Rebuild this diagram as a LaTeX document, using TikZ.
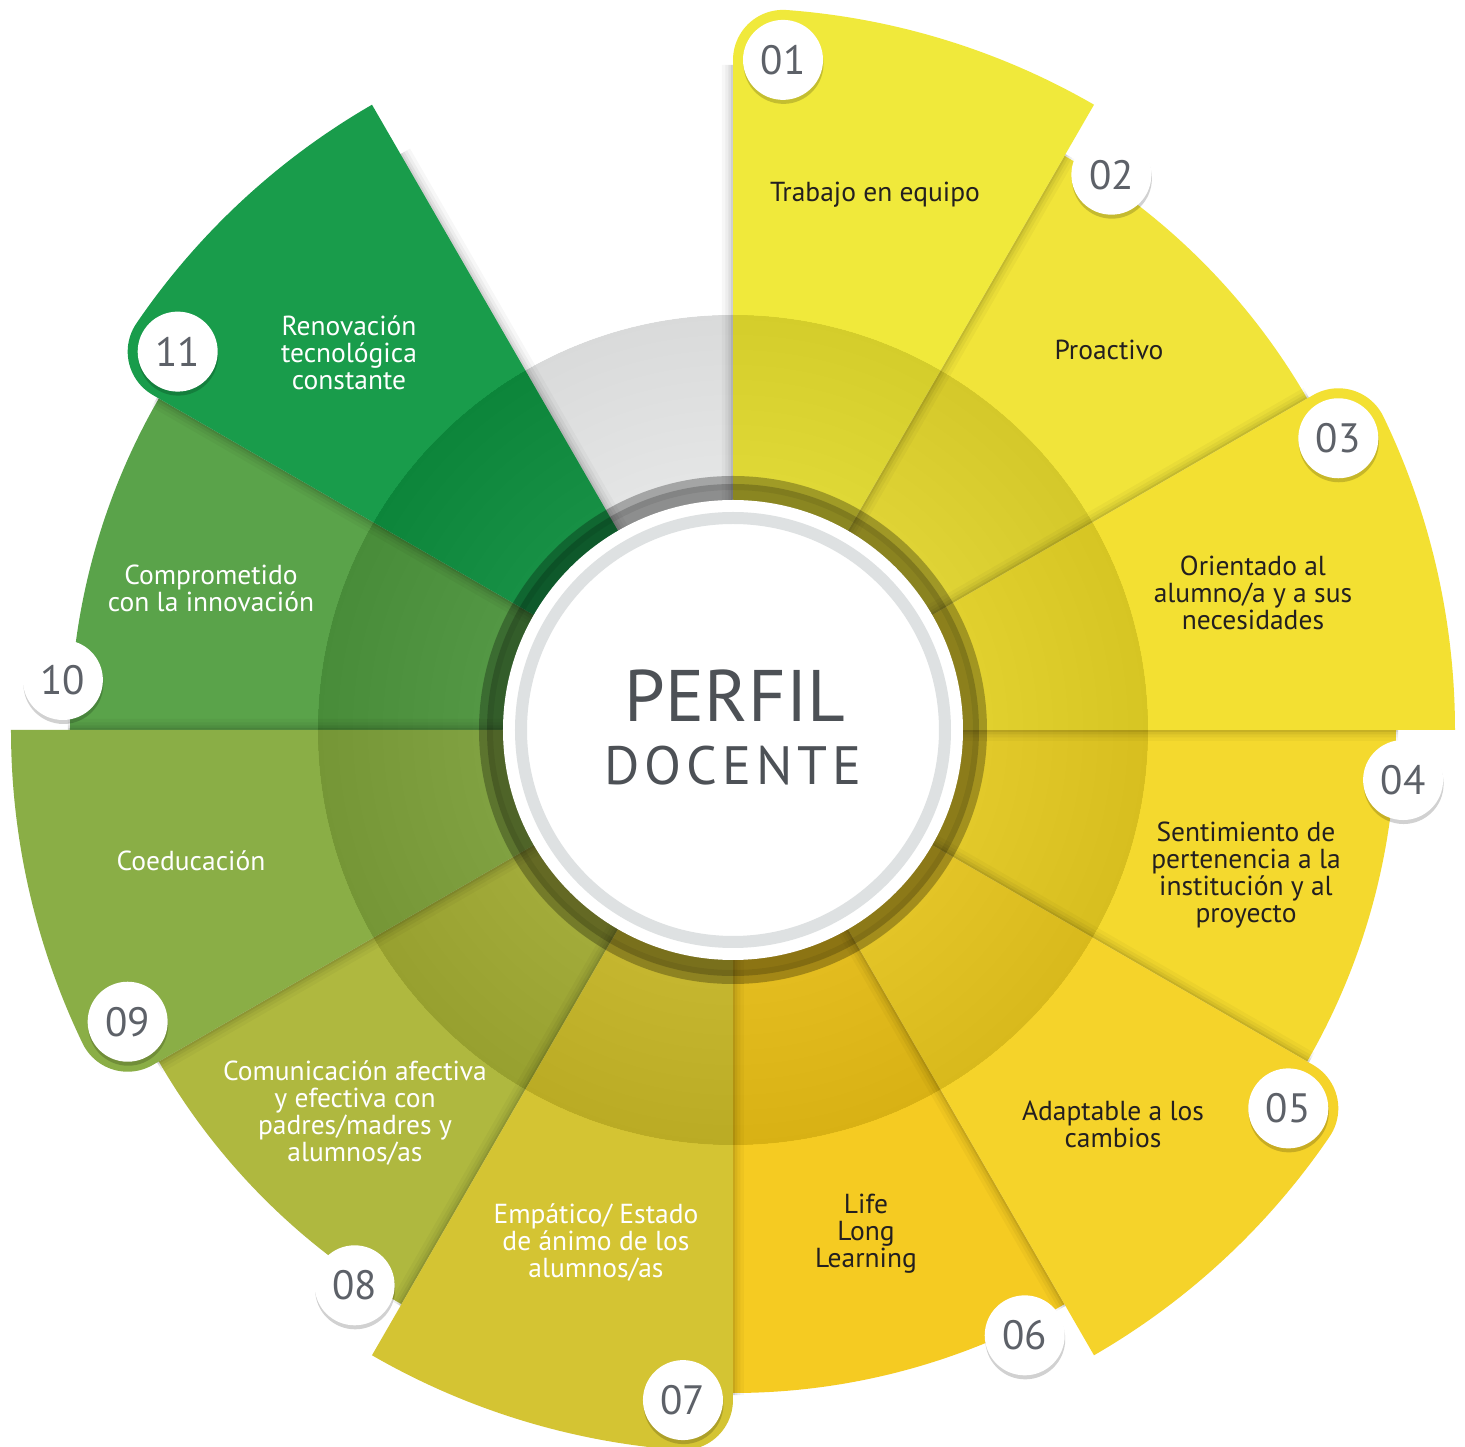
\documentclass[tikz,border=0pt]{standalone}
\usepackage{fontspec}
\setmainfont{PT Sans}
\newfontfamily\spacedfont{PT Sans}[LetterSpace=9]
\usetikzlibrary{calc}
\definecolor{c01}{HTML}{F0E93B}
\definecolor{c02}{HTML}{F1E43A}
\definecolor{c03}{HTML}{F3E032}
\definecolor{c04}{HTML}{F4D92E}
\definecolor{c05}{HTML}{F5D32A}
\definecolor{c06}{HTML}{F5CB22}
\definecolor{c07}{HTML}{D4C433}
\definecolor{c08}{HTML}{AFB83F}
\definecolor{c09}{HTML}{8AAE46}
\definecolor{c10}{HTML}{5AA34A}
\definecolor{c11}{HTML}{199C4B}
\definecolor{gapgray}{HTML}{F6F7F7}
\definecolor{ringgray}{HTML}{DEE1E2}
\definecolor{titlegray}{HTML}{4D5156}
\definecolor{numgray}{HTML}{5D6168}
\definecolor{darktext}{HTML}{231F20}
\newcommand\evensector[3]{\fill[#3] (0,0) -- (#1:663) arc[start angle=#1,end angle=#2,radius=663] -- cycle;}
\newcommand\oddsector[3]{%
  \foreach \w/\o in {22/0.03,15/0.04,9/0.05,4/0.07}{%
    \draw[line width=\w, black, opacity=\o] (#1:665) -- (0,0) -- (#2:665);}%
  \fill[#3] (0,0) -- (#1:722) arc[start angle=#1,end angle=#2-4.27,radius=722]
     arc[start angle=#2-4.27,end angle=#2+90,radius=50] -- cycle;}
\newcommand\badge[3]{% name, angle, text
  \fill[black,opacity=0.18] ($(#2:672)+(0.5,-4)$) circle (40);
  \node[badgebox] (#1) at (#2:672) {#3};}
\tikzset{
  badgebox/.style={circle, fill=white, minimum size=80, inner sep=0pt, text=numgray,
     font=\fontsize{41}{41}\selectfont},
  lbl/.style={align=center, font=\fontsize{27.5}{27}\selectfont, inner sep=0pt},
  lbldark/.style={lbl, text=darktext},
  lbllight/.style={lbl, text=white}
}
\begin{document}
\begin{tikzpicture}[x=1pt,y=1pt]
\useasboundingbox (-733,-717) rectangle (732,730);
\fill[white] (-733,-717) rectangle (732,730);
% gap
\fill[gapgray] (0,0) -- (90:415) arc[start angle=90,end angle=120,radius=415] -- cycle;
% even sectors
\evensector{30}{60}{c02}
\evensector{-30}{0}{c04}
\evensector{-90}{-60}{c06}
\evensector{-150}{-120}{c08}
\evensector{150}{180}{c10}
% odd sectors
\oddsector{60}{90}{c01}
\oddsector{0}{30}{c03}
\oddsector{-60}{-30}{c05}
\oddsector{-120}{-90}{c07}
\oddsector{180}{210}{c09}
\oddsector{120}{150}{c11}
% overlay rings (smooth radial darkening)
\fill[black,opacity=0.07,even odd rule] (0,0) circle (415) (0,0) circle (240);
\foreach \r in {260,275,...,410}{
  \fill[black,opacity=0.005,even odd rule] (0,0) circle (415) (0,0) circle (\r);}
\fill[black,opacity=0.28] (0,0) circle (254);
\fill[black,opacity=0.2] (0,0) circle (246);
% centre
\node[circle, fill=white, minimum size=460, inner sep=0pt] (centre) at (0,0) {};
\draw[ringgray, line width=12] (centre.center) circle (212);
\node[text=titlegray, font=\fontsize{73}{73}\selectfont, anchor=base, inner sep=0pt] (perfil) at (2,8) {PERFIL};
\node[text=titlegray, font=\fontsize{54}{54}\selectfont\spacedfont, anchor=base, inner sep=0pt] (docente) at (0,-55) {DOCENTE};
% badges
\badge{b01}{85.73}{01}
\badge{b02}{55.73}{02}
\badge{b03}{25.73}{03}
\badge{b04}{-4.27}{04}
\badge{b05}{-34.27}{05}
\badge{b06}{-64.27}{06}
\badge{b07}{-94.27}{07}
\badge{b08}{-124.27}{08}
\badge{b09}{205.73}{09}
\badge{b10}{175.73}{10}
\badge{b11}{145.73}{11}
% labels
\node[lbldark] (l01) at (142,535) {Trabajo en equipo};
\node[lbldark] (l02) at (376,380) {Proactivo};
\node[lbldark] (l03) at (520,137) {Orientado al\\alumno/a y a sus\\necesidades};
\node[lbldark] (l04) at (513,-145) {Sentimiento de\\pertenencia a la\\institución y al\\proyecto};
\node[lbldark] (l05) at (380,-394) {Adaptable a los\\cambios};
\node[lbldark] (l06) at (133,-504) {Life\\Long\\Learning};
\node[lbllight] (l07) at (-137,-513) {Empático/ Estado\\de ánimo de los\\alumnos/as};
\node[lbllight] (l08) at (-378,-383) {Comunicación afectiva\\y efectiva con\\padres/madres y\\alumnos/as};
\node[lbllight] (l09) at (-542,-131) {Coeducación};
\node[lbllight] (l10) at (-522,142) {Comprometido\\con la innovación};
\node[lbllight] (l11) at (-384,377) {Renovación\\tecnológica\\constante};
\end{tikzpicture}
\end{document}
